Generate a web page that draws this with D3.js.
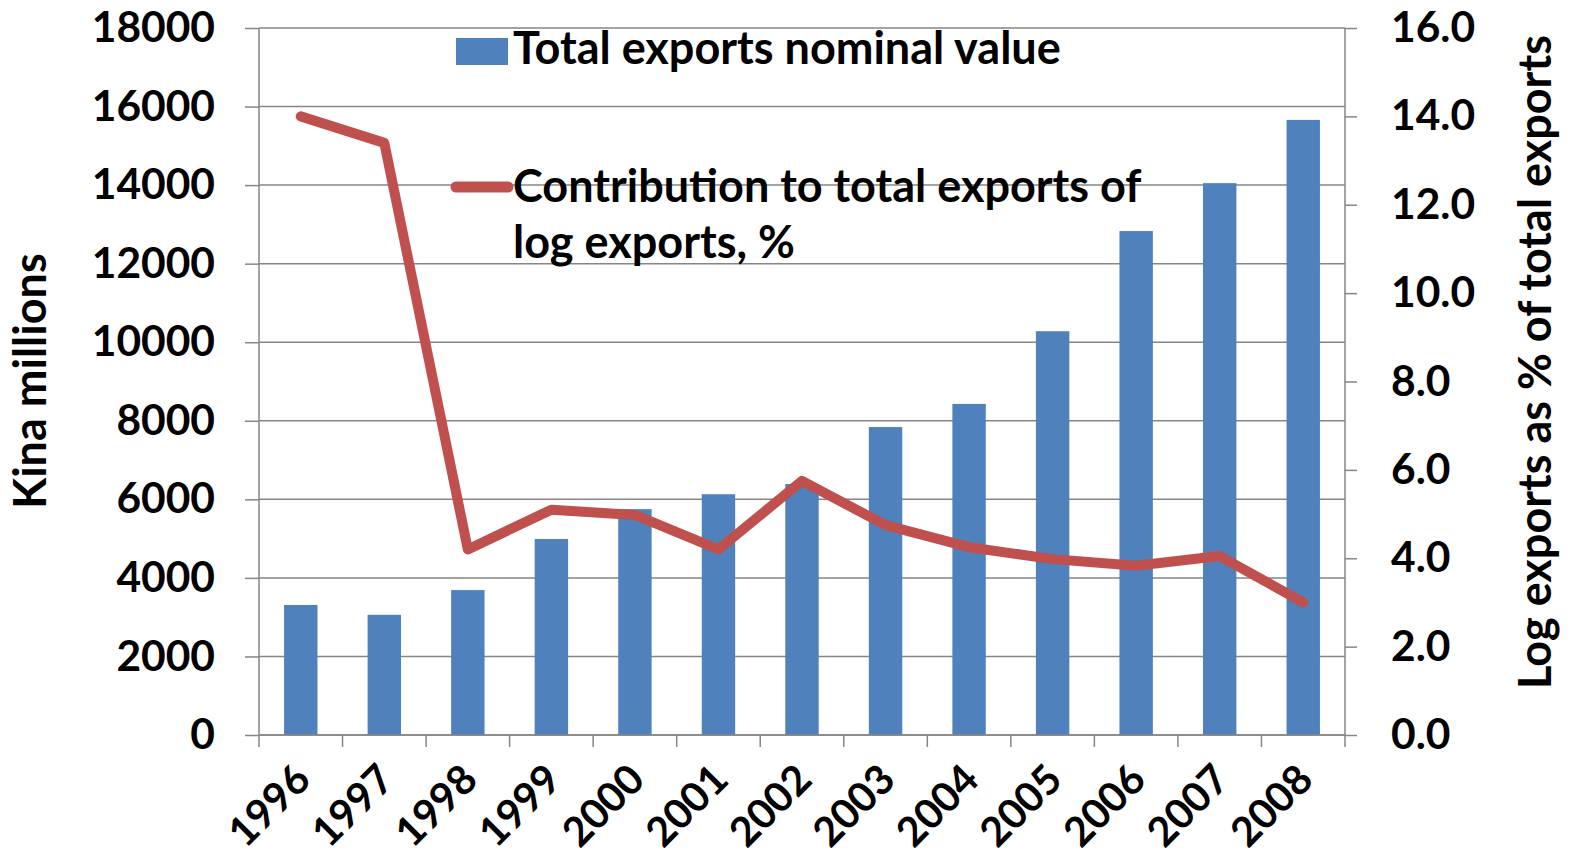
<!DOCTYPE html>
<html>
<head>
<meta charset="utf-8">
<script src="https://cdn.jsdelivr.net/npm/d3@7"></script>
<style>
  html, body { margin: 0; padding: 0; background: #fff; }
  svg { display: block; font-family: Lato, "Open Sans", sans-serif; font-weight: bold; }
</style>
</head>
<body>
<svg id="chart" width="1571" height="855"></svg>
<script>
// Papua New Guinea export data, 1996–2008
const years = ["1996","1997","1998","1999","2000","2001","2002","2003","2004","2005","2006","2007","2008"];
const totalExports = [3310, 3060, 3690, 4990, 5750, 6130, 6390, 7840, 8430, 10280, 12830, 14050, 15660]; // Kina millions
const logShare = [14.0, 13.4, 4.2, 5.1, 4.98, 4.2, 5.75, 4.75, 4.25, 3.98, 3.83, 4.05, 3.0]; // % of total exports
const leftTicks = [0, 2000, 4000, 6000, 8000, 10000, 12000, 14000, 16000, 18000];
const rightTicks = [0, 2, 4, 6, 8, 10, 12, 14, 16];

const svg = d3.select("#chart");
const m = { left: 259, right: 1345, top: 28, bottom: 735 };
const grid = "#868686";
const tickFont = 42.5;
const labelFont = 45;

const x = d3.scaleBand().domain(years).range([m.left, m.right]).paddingInner(0).paddingOuter(0);
const yL = d3.scaleLinear().domain([0, 18000]).range([m.bottom, m.top]);
const yR = d3.scaleLinear().domain([0, 16]).range([m.bottom, m.top]);

// horizontal gridlines on the left-axis ticks
svg.append("g").selectAll("line").data(leftTicks).join("line")
  .attr("x1", m.left).attr("x2", m.right)
  .attr("y1", d => yL(d)).attr("y2", d => yL(d))
  .attr("stroke", grid).attr("stroke-width", 1.5);

// bars
const bw = x.bandwidth() * 0.4;
svg.append("g").selectAll("rect").data(years).join("rect")
  .attr("x", (d) => x(d) + (x.bandwidth() - bw) / 2)
  .attr("width", bw)
  .attr("y", (d, i) => yL(totalExports[i]))
  .attr("height", (d, i) => yL(0) - yL(totalExports[i]))
  .attr("fill", "#4F81BD");

// left axis
const axL = svg.append("g").attr("transform", `translate(${m.left},0)`)
  .call(d3.axisLeft(yL).tickValues(leftTicks).tickFormat(d3.format("d")).tickSize(14).tickPadding(30));
// right axis
const axR = svg.append("g").attr("transform", `translate(${m.right},0)`)
  .call(d3.axisRight(yR).tickValues(rightTicks).tickFormat(d3.format(".1f")).tickSize(12).tickPadding(34));
// bottom axis with ticks on category boundaries
const axB = svg.append("g").attr("transform", `translate(0,${m.bottom})`)
  .call(d3.axisBottom(x).tickSize(0).tickPadding(0));
axB.selectAll(".tick line").remove();
svg.append("g").selectAll("line").data(years.concat(["end"])).join("line")
  .attr("x1", (d, i) => i < years.length ? x(d) : m.right)
  .attr("x2", (d, i) => i < years.length ? x(d) : m.right)
  .attr("y1", m.bottom).attr("y2", m.bottom + 12)
  .attr("stroke", grid).attr("stroke-width", 1.5);

[axL, axR, axB].forEach(a => {
  a.select(".domain").attr("stroke", grid).attr("stroke-width", 1.5);
  a.selectAll(".tick line").attr("stroke", grid).attr("stroke-width", 1.5);
  a.selectAll("text").attr("fill", "#000").attr("font-size", tickFont).attr("font-weight", "bold")
    .attr("font-family", "Lato, 'Open Sans', sans-serif");
});
axL.select(".domain").attr("d", `M0,${m.bottom}V${m.top}`);
axR.select(".domain").attr("d", `M0,${m.bottom}V${m.top}`);
axB.select(".domain").attr("d", `M${m.left},0H${m.right}`);
axR.selectAll("text").attr("text-anchor", "start");

axB.selectAll(".tick text")
  .attr("text-anchor", "end")
  .attr("dy", 0)
  .attr("font-size", 41)
  .attr("transform", "translate(12,47) rotate(-45)");

// line series
const line = d3.line()
  .x((d, i) => x(years[i]) + x.bandwidth() / 2)
  .y(d => yR(d));
svg.append("path").datum(logShare)
  .attr("d", line)
  .attr("fill", "none")
  .attr("stroke", "#C0504D")
  .attr("stroke-width", 10)
  .attr("stroke-linejoin", "round")
  .attr("stroke-linecap", "round");

// axis titles
svg.append("text")
  .attr("transform", "translate(46,381) rotate(-90)")
  .attr("text-anchor", "middle").attr("font-size", labelFont)
  .text("Kina millions");
svg.append("text")
  .attr("transform", "translate(1551,362) rotate(-90)")
  .attr("text-anchor", "middle").attr("font-size", labelFont)
  .text("Log  exports as % of total exports");

// legend
const lg = svg.append("g");
lg.append("rect").attr("x", 456).attr("y", 38).attr("width", 52).attr("height", 27).attr("fill", "#4F81BD");
lg.append("text").attr("x", 513).attr("y", 64).attr("font-size", labelFont).text("Total exports nominal value");
lg.append("line").attr("x1", 456).attr("x2", 508).attr("y1", 187).attr("y2", 187)
  .attr("stroke", "#C0504D").attr("stroke-width", 11).attr("stroke-linecap", "round");
lg.append("text").attr("x", 513).attr("y", 202).attr("font-size", labelFont).text("Contribution to total exports of");
lg.append("text").attr("x", 513).attr("y", 258).attr("font-size", labelFont).text("log exports, %");
</script>
</body>
</html>
